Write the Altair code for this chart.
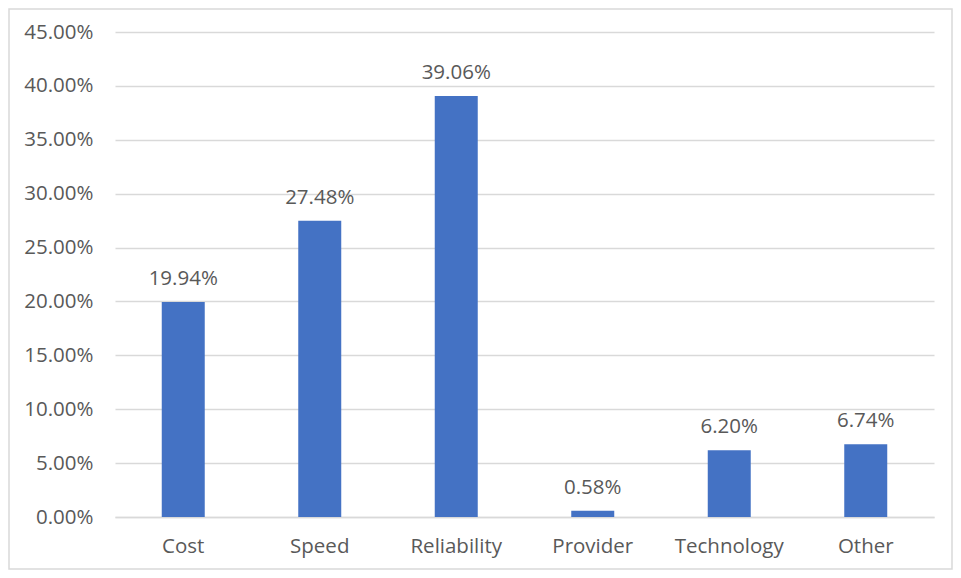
import altair as alt
import pandas as pd

categories = ["Cost", "Speed", "Reliability", "Provider", "Technology", "Other"]
shares = [0.1994, 0.2748, 0.3906, 0.0058, 0.0620, 0.0674]
y_ticks = [0, 0.05, 0.10, 0.15, 0.20, 0.25, 0.30, 0.35, 0.40, 0.45]

df = pd.DataFrame({"category": categories, "share": shares})

W, H = 819, 485
FONT = "Open Sans"
FS = 20.5
TXT = "#595959"

x = alt.X("category:N", sort=categories, title=None,
          scale=alt.Scale(paddingInner=0.685, paddingOuter=0.3425),
          axis=alt.Axis(labelAngle=0, labelFontSize=FS, labelFont=FONT, labelColor=TXT,
                        ticks=False, domainColor="#d9d9d9", domainWidth=1.3,
                        labelPadding=19, grid=False))
y = alt.Y("share:Q", title=None,
          scale=alt.Scale(domain=[0, 0.45], nice=False),
          axis=alt.Axis(values=y_ticks, format=".2%", labelFontSize=FS, labelFont=FONT,
                        labelColor=TXT, ticks=False, domain=False, labelPadding=22,
                        gridColor="#d9d9d9", gridWidth=1.3))

base = alt.Chart(df)
bars = base.mark_bar(color="#4472C4").encode(x=x, y=y)
labels = base.mark_text(dy=-13, baseline="bottom", fontSize=FS, font=FONT, color=TXT).encode(
    x=alt.X("category:N", sort=categories),
    y="share:Q",
    text=alt.Text("share:Q", format=".2%"),
)
border = alt.Chart(alt.Data(values=[{}])).mark_rect(
    fill=None, stroke="#d9d9d9", strokeWidth=1.5, clip=False
).encode(
    x=alt.value(-106), x2=alt.value(W + 18),
    y=alt.value(-23), y2=alt.value(H + 52),
)

chart = alt.layer(bars, labels, border).properties(
    width=W, height=H,
    autosize=alt.AutoSizeParams(type="none"),
    padding={"left": 107, "top": 24, "right": 19, "bottom": 53},
).configure_view(stroke=None)

chart.save("out.html", embed_options={"renderer": "svg", "actions": False})
